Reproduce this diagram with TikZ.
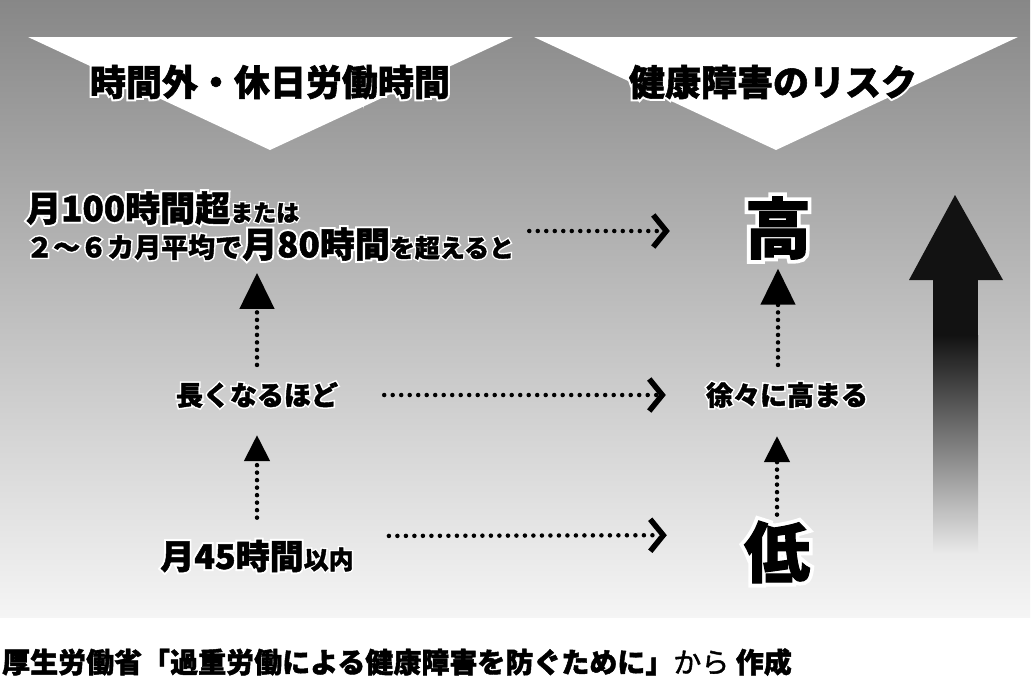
\documentclass[tikz,border=0pt]{standalone}
\usepackage{fontspec}
\newfontfamily\jp{Noto Sans CJK JP}[FakeBold=1.5]
\newfontfamily\jphalo{Noto Sans CJK JP}[FakeBold=13]
\usetikzlibrary{arrows.meta,positioning}
\newcommand{\sz}[1]{\fontsize{#1pt}{36pt}\selectfont}
\newcommand{\halo}[1]{\leavevmode\rlap{\color{white}\jphalo #1}#1}

\begin{document}
\begin{tikzpicture}
        [x=1pt, y=-1pt,
         txt/.style={inner sep=0pt, font=\jp\bfseries},
         title/.style={txt, font=\jp\bfseries\sz{36}},
         hdot/.style={line width=4.5pt, line cap=round, dash pattern=on 0pt off 8.5pt,
           -{Straight Barb[length=13pt, width=32pt, line width=5.5pt]}},
         vdot/.style={line width=4.5pt, line cap=round, dash pattern=on 0pt off 7.5pt,
           -{Triangle[length=36pt, width=34pt]}},
         vdots/.style={vdot, -{Triangle[length=26pt, width=25pt]}}]

        \useasboundingbox (0,0) rectangle (1032,683);
        \fill[white] (0,0) rectangle (1032,683);
        \shade[top color=black!47, bottom color=black!4] (0,0) rectangle (1030,617);

        % heading triangles
        \fill[white] (28,37) -- (513,37) -- (270,150) -- cycle;
        \fill[white] (534,37) -- (1018,37) -- (776,150) -- cycle;

        % big arrow on the right
        \fill[black!93] (955,195) -- (1003,280) -- (909,280) -- cycle;
        \fill[black!93] (933,279) rectangle (978,336);
        \shade[top color=black!93, bottom color=black!9] (933,335) rectangle (978,552);

        \node [title] (ttime) at (270,82) {\halo{時間外・休日労働時間}};
        \node [title] (trisk) at (773,82) {\halo{健康障害のリスク}};

        \node [txt, anchor=west, align=left, font=\jp\bfseries\sz{25}] (over) at (26,226)
          {\halo{\sz{35}月100時間超\sz{23}または}\\
           \halo{\sz{27}２〜６カ月平均で\sz{35}月80時間\sz{25}を超えると}};
        \node [txt, font=\jp\bfseries\sz{27}] (naga) at (257,395) {\halo{長くなるほど}};
        \node [txt, font=\jp\bfseries\sz{34}] (m45) at (257,556) {\halo{月45時間\sz{25}以内}};

        \node [txt, font=\jp\bfseries\sz{66}] (high) at (778,228) {\halo{高}};
        \node [txt, font=\jp\bfseries\sz{27}] (grad) at (787,395) {\halo{徐々に高まる}};
        \node [txt, font=\jp\bfseries\sz{66}] (low) at (777,552) {\halo{低}};

        \node [txt, anchor=west, font=\jp\bfseries\sz{28}] (src) at (2,662)
          {厚生労働省「過重労働による健康障害を防ぐために」{\mdseries から} 作成};

        \draw[hdot, shorten <=15pt, shorten >=75pt] ([yshift=-3pt]over.east |- high) -- ([yshift=-3pt]high.west);
        \draw[hdot, shorten <=46pt, shorten >=40pt] (naga) -- (grad);
        \draw[hdot, shorten <=35pt, shorten >=77pt] ([yshift=20pt]m45.east) -- ([yshift=17pt]low.west);

        \draw[vdot, shorten <=17pt, shorten >=12pt] (naga.north) -- (naga.north |- over.south);
        \draw[vdots, shorten <=22pt, shorten >=27pt] (m45.north) -- (naga.south);
        \draw[vdot, shorten <=17pt, shorten >=9pt] (grad.north -| high) -- (high.south);
        \draw[vdots, shorten <=6pt, shorten >=28pt] (low.north) -- (low.north |- grad.south);

\end{tikzpicture}
\end{document}
